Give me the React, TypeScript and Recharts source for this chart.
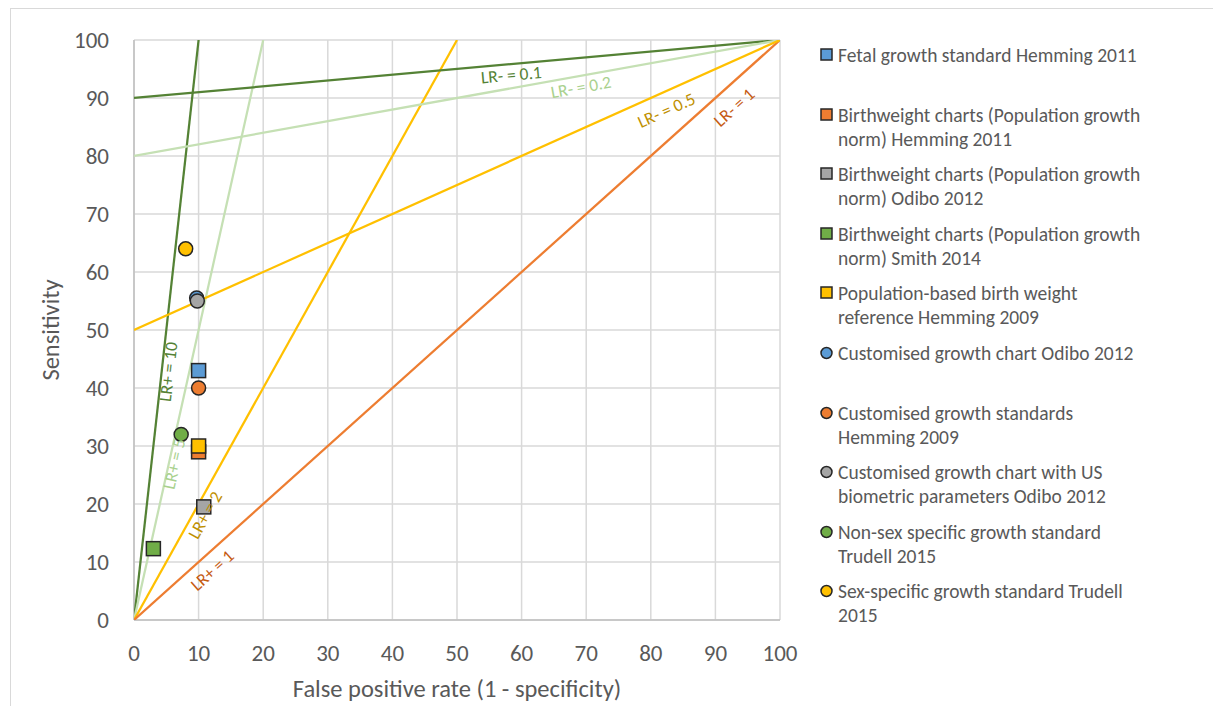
import React from 'react';
import { ScatterChart, Scatter, XAxis, YAxis, CartesianGrid, Label } from 'recharts';

const FONT = 'Carlito, Calibri, Lato, sans-serif';

const axisTicks = [0, 10, 20, 30, 40, 50, 60, 70, 80, 90, 100];

// study points: false positive rate, sensitivity
const studyNames = [
  'Fetal growth standard Hemming 2011',
  'Birthweight charts (Population growth norm) Hemming 2011',
  'Birthweight charts (Population growth norm) Odibo 2012',
  'Birthweight charts (Population growth norm) Smith 2014',
  'Population-based birth weight reference Hemming 2009',
  'Customised growth chart Odibo 2012',
  'Customised growth standards Hemming 2009',
  'Customised growth chart with US biometric parameters Odibo 2012',
  'Non-sex specific growth standard Trudell 2015',
  'Sex-specific growth standard Trudell 2015',
];
const studyFpr = [10, 10, 10.8, 3, 10, 9.7, 10, 9.8, 7.3, 8];
const studySens = [43, 29, 19.5, 12.3, 30, 55.5, 40, 55, 32, 64];
const studyShapes = ['square', 'square', 'square', 'square', 'square', 'circle', 'circle', 'circle', 'circle', 'circle'];
const studyColors = ['#5B9BD5', '#ED7D31', '#A5A5A5', '#70AD47', '#FFC000', '#5B9BD5', '#ED7D31', '#A5A5A5', '#70AD47', '#FFC000'];

// likelihood ratio reference lines (start and end points)
const lineStartX = [0, 0, 0, 0, 0, 0, 0];
const lineStartY = [0, 0, 0, 0, 90, 80, 50];
const lineEndX = [10, 20, 50, 100, 100, 100, 100];
const lineEndY = [100, 100, 100, 100, 100, 100, 100];
const lineColors = ['#548235', '#C5E0B4', '#FFC000', '#ED7D31', '#548235', '#C5E0B4', '#FFC000'];

// line labels: text, position (data units), which line
const labelTexts = ['LR+ = 10', 'LR+ = 5', 'LR+ = 2', 'LR+ = 1', 'LR- = 0.1', 'LR- = 0.2', 'LR- = 0.5', 'LR- = 1'];
const labelX = [5.3, 6.2, 11.0, 12.1, 58.4, 69.2, 82.4, 92.9];
const labelY = [42.8, 26.9, 18.1, 8.6, 94.0, 91.9, 87.9, 88.4];
const labelLine = [0, 1, 2, 3, 4, 5, 6, 3];
const labelColors = ['#548235', '#A9D18E', '#BF9000', '#C55A11', '#548235', '#A9D18E', '#BF9000', '#C55A11'];

const PLOT_W = 646;
const PLOT_H = 580;

const lines = lineStartX.map((x, i) => ({
  color: lineColors[i],
  data: [
    { x, y: lineStartY[i] },
    { x: lineEndX[i], y: lineEndY[i] },
  ],
}));

const labels = labelTexts.map((text, i) => {
  const l = labelLine[i];
  const dx = ((lineEndX[l] - lineStartX[l]) * PLOT_W) / 100;
  const dy = ((lineEndY[l] - lineStartY[l]) * PLOT_H) / 100;
  return { x: labelX[i], y: labelY[i], text, color: labelColors[i], angle: -(Math.atan2(dy, dx) * 180) / Math.PI };
});

const studies = studyNames.map((name, i) => ({
  name,
  shape: studyShapes[i],
  color: studyColors[i],
  data: [{ x: studyFpr[i], y: studySens[i] }],
}));

const Marker = ({ cx, cy, kind, color }: any) =>
  kind === 'square' ? (
    <rect x={cx - 7} y={cy - 7} width={14} height={14} fill={color} stroke="#262626" strokeWidth={1.5} />
  ) : (
    <circle cx={cx} cy={cy} r={7} fill={color} stroke="#262626" strokeWidth={1.5} />
  );

const LineLabel = (props: any) => {
  const { cx, cy, payload } = props;
  return (
    <text
      x={cx}
      y={cy}
      transform={`rotate(${payload.angle} ${cx} ${cy})`}
      textAnchor="middle"
      dominantBaseline="central"
      fill={payload.color}
      fontSize={17.5}
      fontFamily={FONT}
    >
      {payload.text}
    </text>
  );
};

const LegendBox = () => (
  <div style={{ position: 'absolute', left: 812, top: 35, width: 340, fontFamily: FONT, fontSize: 19.5, color: '#595959' }}>
    {studies.map((s) => (
      <div key={s.name} style={{ height: 59.6, display: 'flex', alignItems: 'flex-start' }}>
        <svg width={18} height={24} style={{ flex: 'none' }}>
          {s.shape === 'square' ? (
            <rect x={1} y={6} width={11} height={11} fill={s.color} stroke="#262626" strokeWidth={1.5} />
          ) : (
            <circle cx={6.5} cy={12} r={5.5} fill={s.color} stroke="#262626" strokeWidth={1.5} />
          )}
        </svg>
        <div style={{ lineHeight: '24px', width: 312 }}>{s.name}</div>
      </div>
    ))}
  </div>
);

const App: React.FC = () => {
  return (
    <div style={{ position: 'relative', width: 1213, height: 698, fontFamily: FONT }}>
      <div
        style={{
          position: 'absolute',
          left: 2,
          top: 0,
          width: 1211,
          height: 698,
          borderTop: '1.5px solid #d9d9d9',
          borderLeft: '1.5px solid #d9d9d9',
        }}
      />
      <div style={{ position: 'absolute', left: 0, top: 0 }}>
        <ScatterChart width={1213} height={698} margin={{ top: 32, right: 441, bottom: 26, left: 20 }}>
          <CartesianGrid stroke="#d9d9d9" strokeWidth={1.5} />
          <XAxis
            type="number"
            dataKey="x"
            domain={[0, 100]}
            ticks={axisTicks}
            allowDataOverflow
            height={60}
            tickLine={false}
            tickSize={0}
            tickMargin={25}
            axisLine={{ stroke: '#bfbfbf', strokeWidth: 1.5 }}
            tick={{ fill: '#595959', fontSize: 23, fontFamily: FONT }}
          >
            <Label
              value="False positive rate (1 - specificity)"
              position="insideBottom"
              offset={-17}
              style={{ fill: '#595959', fontSize: 24.5, fontFamily: FONT }}
            />
          </XAxis>
          <YAxis
            type="number"
            dataKey="y"
            domain={[0, 100]}
            ticks={axisTicks}
            allowDataOverflow
            width={106}
            tickLine={false}
            tickSize={0}
            tickMargin={25}
            axisLine={{ stroke: '#bfbfbf', strokeWidth: 1.5 }}
            tick={{ fill: '#595959', fontSize: 23, fontFamily: FONT }}
          >
            <Label
              value="Sensitivity"
              angle={-90}
              position="insideLeft"
              offset={22}
              style={{ fill: '#595959', fontSize: 24.5, fontFamily: FONT, textAnchor: 'middle' }}
            />
          </YAxis>
          {lines.map((l, i) => (
            <Scatter
              key={'line' + i}
              data={l.data}
              line={{ stroke: l.color, strokeWidth: 2.25 }}
              shape={() => null}
              isAnimationActive={false}
            />
          ))}
          {studies.map((s) => (
            <Scatter
              key={s.name}
              name={s.name}
              data={s.data}
              shape={(p: any) => <Marker {...p} kind={s.shape} color={s.color} />}
              isAnimationActive={false}
            />
          ))}
          <Scatter data={labels} shape={LineLabel} isAnimationActive={false} />
        </ScatterChart>
      </div>
      <LegendBox />
    </div>
  );
};

export default App;
